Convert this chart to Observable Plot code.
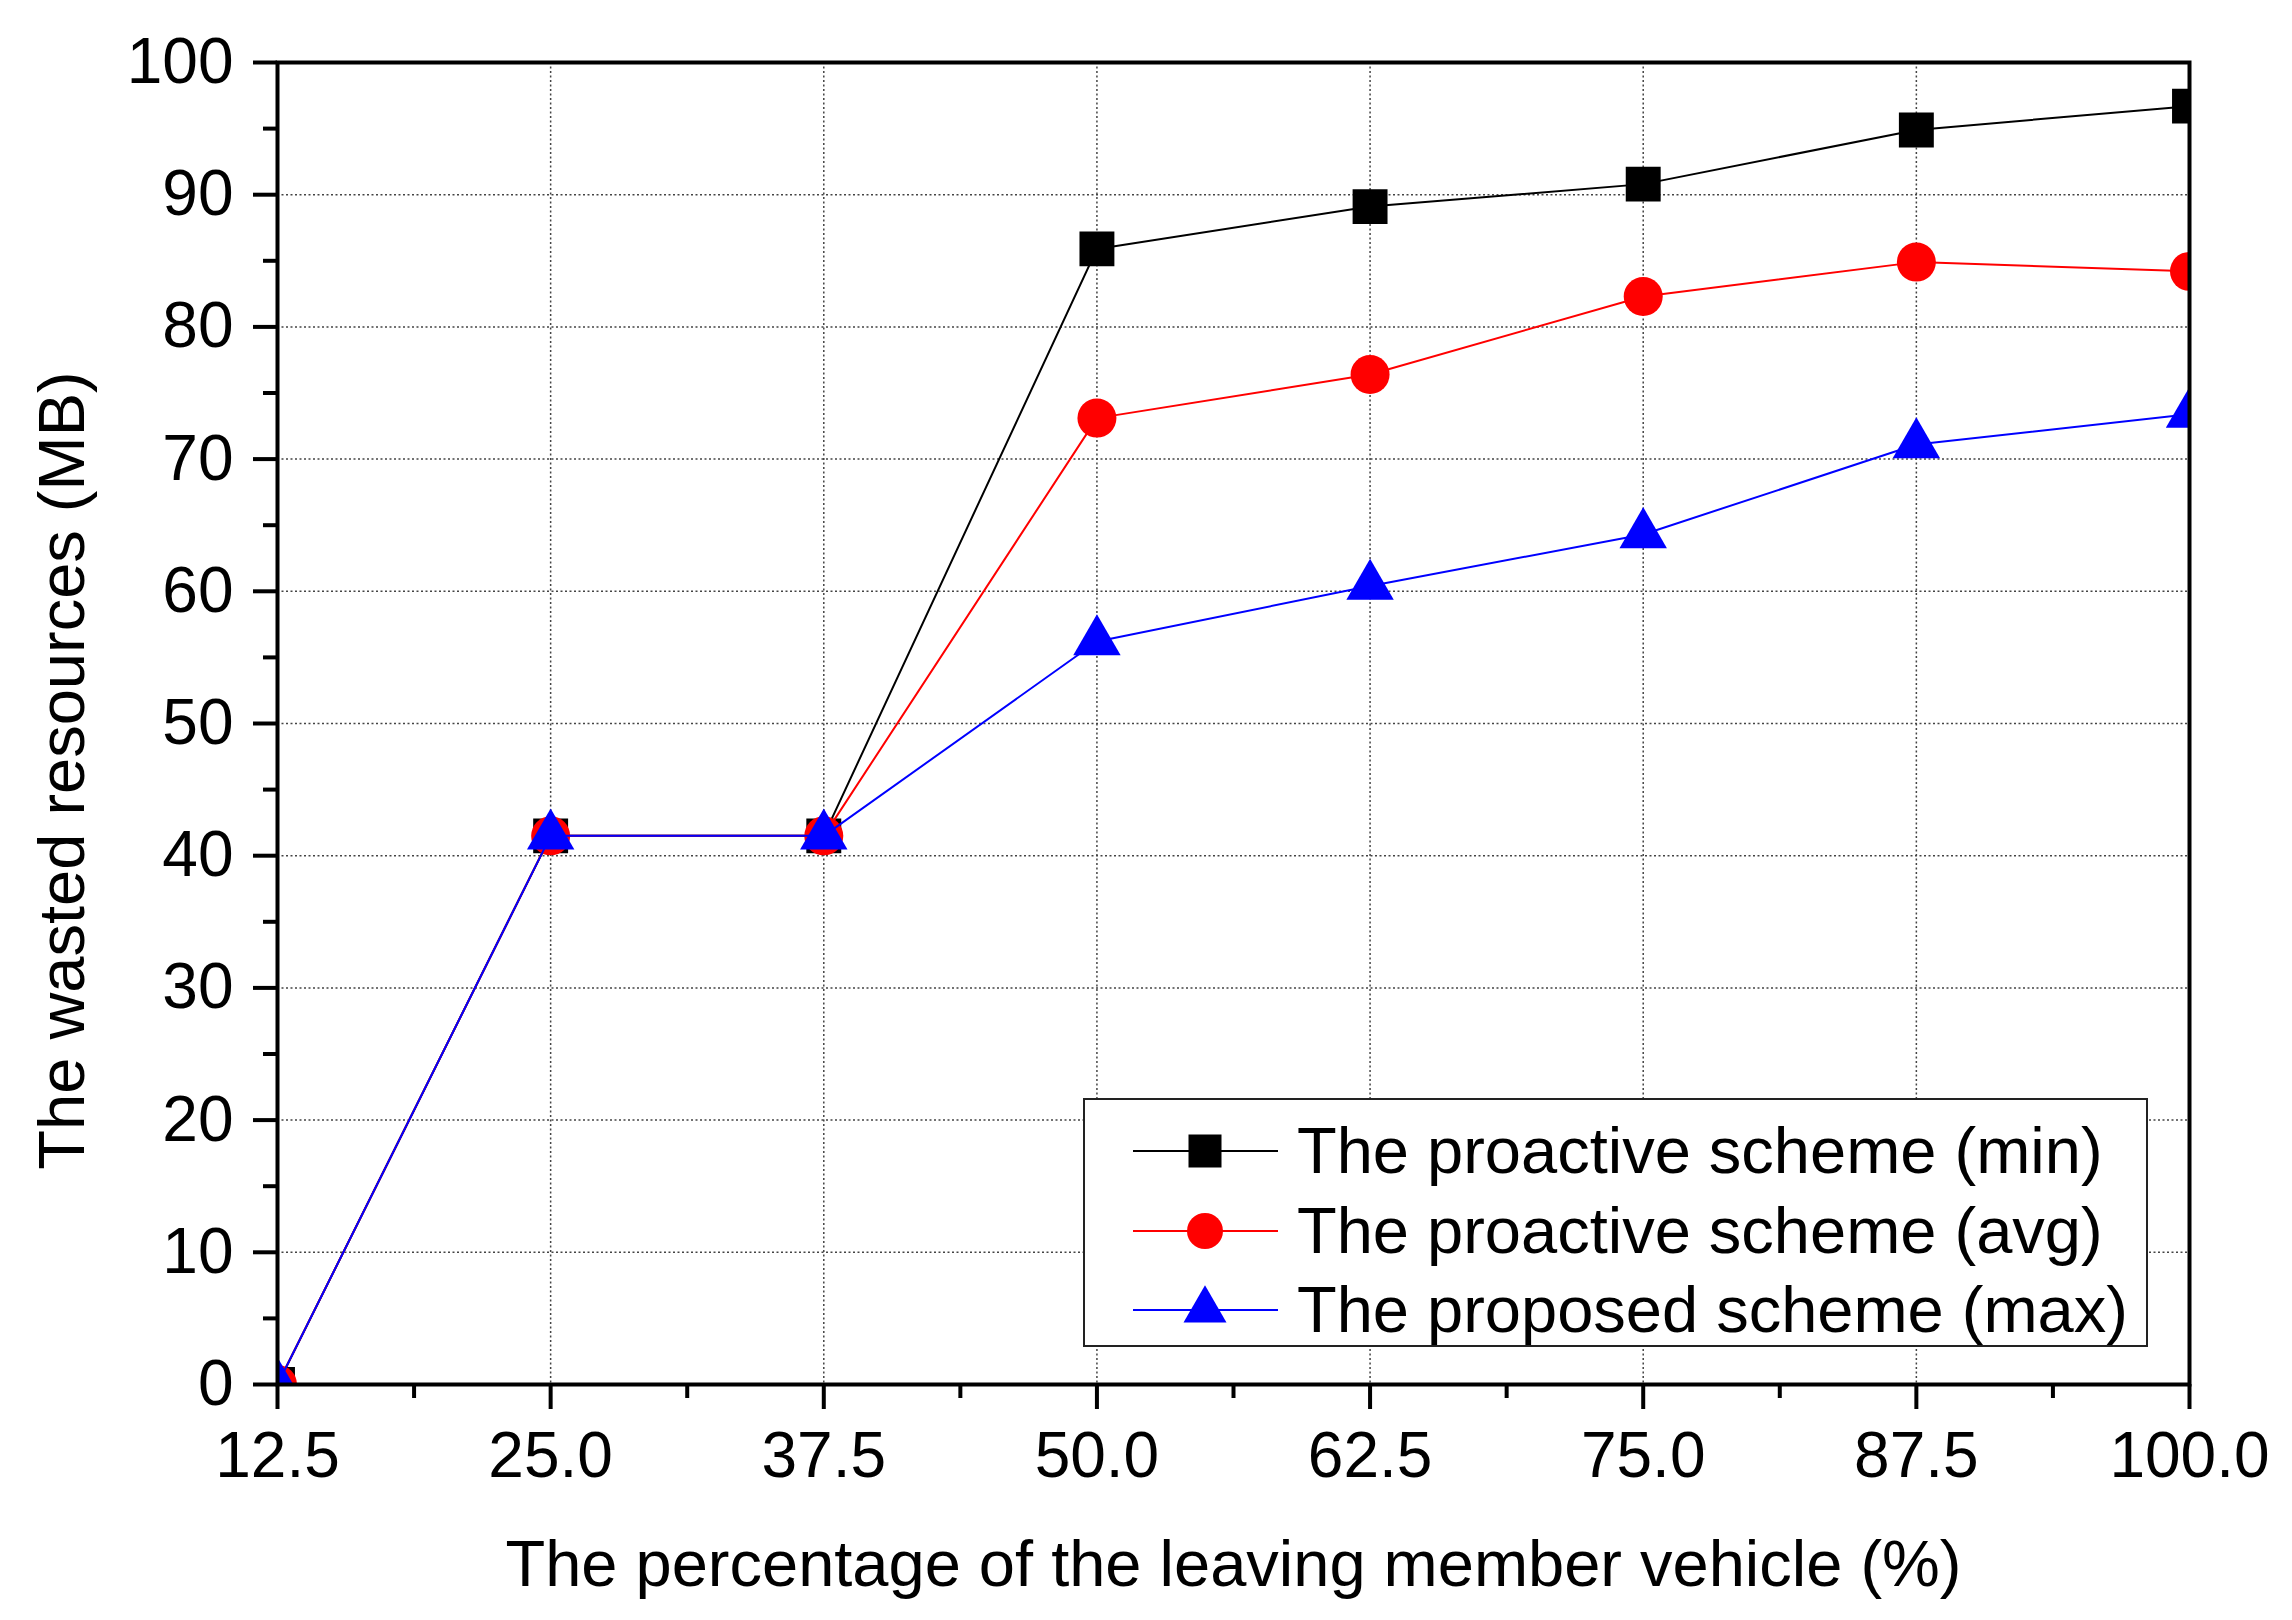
<!DOCTYPE html>
<html><head><meta charset="utf-8">
<script src="https://cdn.jsdelivr.net/npm/d3@7"></script>
<script src="https://cdn.jsdelivr.net/npm/@observablehq/plot@0.6"></script>
<style>
html,body{margin:0;padding:0;background:#fff;overflow:hidden}
#wrap{position:relative;width:2292px;height:1620px}
#wrap svg{position:absolute;left:0;top:0}
</style></head><body><div id="wrap"></div>
<script>
// ---- data ----
const xValues = [12.5, 25.0, 37.5, 50.0, 62.5, 75.0, 87.5, 100.0];
const minValues = [0, 41.5, 41.5, 85.9, 89.1, 90.8, 94.9, 96.7];
const avgValues = [0, 41.5, 41.5, 73.1, 76.4, 82.3, 84.9, 84.2];
const maxValues = [0, 41.5, 41.5, 56.2, 60.4, 64.3, 71.1, 73.4];
const seriesNames = ["The proactive scheme (min)", "The proactive scheme (avg)", "The proposed scheme (max)"];
const seriesColors = ["#000000", "#ff0000", "#0000ff"];
const seriesSymbols = ["square", "circle", "triangle"];
const xTicks = [12.5, 25.0, 37.5, 50.0, 62.5, 75.0, 87.5, 100.0];
const xMinorTicks = [18.75, 31.25, 43.75, 56.25, 68.75, 81.25, 93.75];
const yTicks = [0, 10, 20, 30, 40, 50, 60, 70, 80, 90, 100];
const yMinorTicks = [5, 15, 25, 35, 45, 55, 65, 75, 85, 95];
const xLabel = "The percentage of the leaving member vehicle (%)";
const yLabel = "The wasted resources (MB)";

// ---- styling ----
const FONT = "'Liberation Sans', Arial, Helvetica, sans-serif";
const FS = 64;
const FT = 65;
const markerR = {square: 19.7, circle: 19.5, triangle: 17.6};
const legendSize = {square: 33 * 33, circle: Math.PI * 18 * 18, triangle: 800};

const valueSets = [minValues, avgValues, maxValues];
const series = seriesNames.map((name, i) => ({
  name, color: seriesColors[i], symbol: seriesSymbols[i],
  rows: xValues.map((x, j) => ({x, y: valueSets[i][j], s: name}))
}));

const grid = {stroke: "#444", strokeWidth: 1.5, strokeDasharray: "2,2.5"};
const marks = [
  Plot.ruleX(xTicks.slice(1, -1), grid),
  Plot.ruleY(yTicks.slice(1, -1), grid)
];
for (const s of series) {
  marks.push(Plot.line(s.rows, {x: "x", y: "y", stroke: s.color, strokeWidth: 2, clip: "frame"}));
  marks.push(Plot.dot(s.rows, {x: "x", y: "y", symbol: s.symbol, r: markerR[s.symbol], fill: s.color, stroke: "none", clip: "frame"}));
}
marks.push(
  Plot.frame({stroke: "#000", strokeWidth: 4}),
  Plot.axisX({ticks: xTicks, tickSize: 25, tickPadding: 22, tickFormat: d => d.toFixed(1), fontSize: FS, strokeWidth: 4, label: null, fill: "#000"}),
  Plot.axisX({ticks: xMinorTicks, tickSize: 14, tickFormat: () => "", strokeWidth: 4, label: null}),
  Plot.axisY({ticks: yTicks, tickSize: 24, tickPadding: 20, tickFormat: d => String(d), fontSize: FS, strokeWidth: 4, label: null, fill: "#000"}),
  Plot.axisY({ticks: yMinorTicks, tickSize: 14, tickFormat: () => "", strokeWidth: 4, label: null}),
  Plot.text([xLabel], {text: d => d, frameAnchor: "bottom", textAnchor: "middle", lineAnchor: "top", dy: 155, dx: 0, fontSize: FT, fill: "#000"}),
  Plot.text([yLabel], {text: d => d, frameAnchor: "left", textAnchor: "middle", lineAnchor: "top", rotate: -90, dx: -240, dy: 47, fontSize: FT, fill: "#000"})
);

const chart = Plot.plot({
  width: 2292, height: 1620,
  marginLeft: 277, marginRight: 103, marginTop: 62, marginBottom: 236,
  style: {fontFamily: FONT, fontSize: FS + "px", background: "#fff", color: "#000"},
  x: {domain: [12.5, 100]},
  y: {domain: [0, 100]},
  marks
});
const wrap = document.getElementById("wrap");
wrap.appendChild(chart);

// ---- legend (pixel overlay) ----
const lg = d3.select(wrap).append("svg")
  .attr("width", 2292).attr("height", 1620)
  .style("font-family", FONT);
lg.append("rect").attr("x", 1084).attr("y", 1099).attr("width", 1063).attr("height", 247)
  .attr("fill", "#fff").attr("stroke", "#222").attr("stroke-width", 2);
const rowY = [1151, 1231, 1310];
series.forEach((s, i) => {
  const g = lg.append("g");
  g.append("line").attr("x1", 1133).attr("x2", 1278).attr("y1", rowY[i]).attr("y2", rowY[i])
    .attr("stroke", s.color).attr("stroke-width", 2);
  const sym = {square: d3.symbolSquare, circle: d3.symbolCircle, triangle: d3.symbolTriangle}[s.symbol];
  g.append("path").attr("d", d3.symbol(sym, legendSize[s.symbol])())
    .attr("transform", `translate(1205,${rowY[i]})`).attr("fill", s.color);
  g.append("text").attr("x", 1297).attr("y", rowY[i] + 22).attr("font-size", FT)
    .attr("fill", "#000").text(s.name);
});
</script>
</body></html>
